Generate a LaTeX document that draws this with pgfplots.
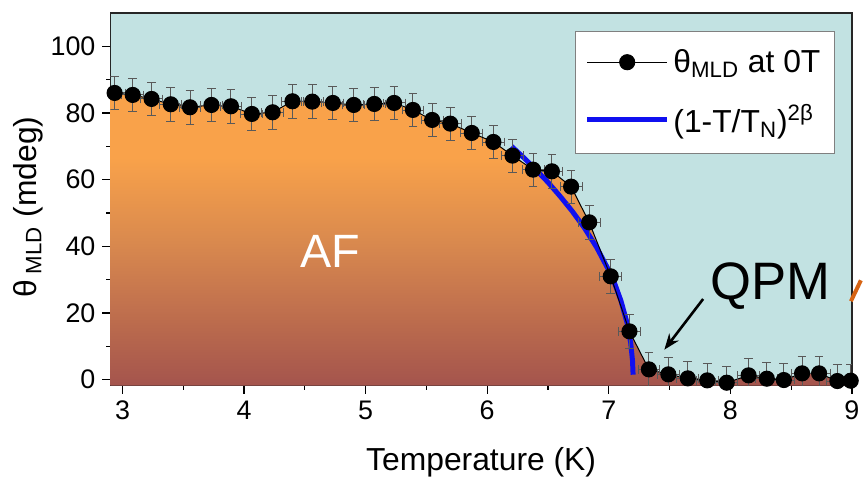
\documentclass[border=0pt]{standalone}
\usepackage{fontspec}
\setmainfont{Liberation Sans}
\usepackage{pgfplots}
\pgfplotsset{compat=1.18}
\usetikzlibrary{arrows.meta}
\definecolor{bgteal}{RGB}{194,226,226}
\definecolor{aftop}{RGB}{249,162,74}
\definecolor{afmid}{RGB}{218,138,78}
\definecolor{afbot}{RGB}{164,84,77}
\definecolor{fitblue}{RGB}{16,16,240}
\definecolor{sideorange}{RGB}{214,100,20}
\pgfdeclareverticalshading{afshade}{100bp}{color(0bp)=(afbot); color(25bp)=(afbot); color(50bp)=(afmid); color(64bp)=(aftop); color(100bp)=(aftop)}
\begin{document}
\begin{tikzpicture}
\begin{axis}[
  scale only axis, width=373pt, height=187.5pt,
  xmin=2.9, xmax=9, ymin=-1.8, ymax=110,
  xtick={3,4,5,6,7,8,9}, ytick={0,20,40,60,80,100},
  minor x tick num=1, minor y tick num=1,
  tick align=outside, tick pos=left,
  major tick length=4pt, minor tick length=2pt,
  every tick/.style={black, line width=0.6pt},
  axis line style={line width=0.8pt, black!85},
  axis background/.style={fill=bgteal},
  /pgf/number format/assume math mode=true,
  ticklabel style={font=\fontsize{13.5}{16}\selectfont},
  xlabel={Temperature (K)},
  ylabel={θ\,\textsubscript{MLD} (mdeg)},
  label style={font=\fontsize{16}{19}\selectfont},
  xlabel style={at={(rel axis cs:0.5,-0.2267)}, anchor=base},
  ylabel style={at={(rel axis cs:-0.111,0.48)}, anchor=center},
  reverse legend,
  legend style={at={(rel axis cs:0.977,0.952)}, anchor=north east,
    draw=black!50, line width=0.5pt, fill=white,
    font=\fontsize{16}{18}\selectfont, row sep=10.5pt, inner xsep=5pt, inner ysep=7pt},
  legend cell align=left,
  legend image code/.code={\draw[mark repeat=2,mark phase=2,#1] plot coordinates {(0pt,0pt) (20pt,0pt) (40pt,0pt)};},
]
% AF shaded region under the data
\addplot[draw=none, shading=afshade, forget plot] coordinates {
(2.9,85.6) (2.935,86.0) (3.084,85.4) (3.239,84.2) (3.397,82.6) (3.555,81.7)
(3.732,82.4) (3.892,82.0) (4.064,79.7) (4.235,80.2) (4.398,83.5) (4.561,83.4)
(4.730,83.0) (4.902,82.4) (5.071,82.7) (5.234,83.0) (5.389,80.9) (5.547,77.9)
(5.696,76.8) (5.873,74.0) (6.051,71.3) (6.208,67.2) (6.377,63.0) (6.532,62.5)
(6.690,57.9) (6.839,47.2) (7.016,31.0) (7.17,14.5) (7.33,3.1) (7.49,1.6)
(7.65,0.4) (7.81,-0.2) (7.97,-0.9) (8.15,1.3) (8.30,0.3) (8.44,-0.1)
(8.59,1.9) (8.73,1.9) (8.88,-0.4) (8.99,-0.3) (9.0,-0.3) (9.0,-1.8) (2.9,-1.8)
} -- cycle;
% fit curve
\addplot[fitblue, line width=2.5pt] coordinates {
(6.2,70.0) (6.3,66.6) (6.4,63.0) (6.5,59.2) (6.6,55.0) (6.7,50.5) (6.8,45.5)
(6.9,39.7) (7.0,32.8) (7.05,28.7) (7.1,23.7) (7.15,17.1) (7.18,11.1) (7.195,5.8) (7.2,1.5)
};
\addlegendentry{(1-T/T\textsubscript{N})\textsuperscript{2β}}
% data
\addplot[black, line width=0.5pt, mark=*, mark size=3.8pt,
  error bars/.cd, x dir=both, x fixed=0.09, y dir=both, y fixed=5,
  error bar style={black!65, line width=0.45pt},
  error mark options={rotate=90, black!65, mark size=2.2pt, line width=0.45pt}] coordinates {
(2.935,86.0) (3.084,85.4) (3.239,84.2) (3.397,82.6) (3.555,81.7)
(3.732,82.4) (3.892,82.0) (4.064,79.7) (4.235,80.2) (4.398,83.5) (4.561,83.4)
(4.730,83.0) (4.902,82.4) (5.071,82.7) (5.234,83.0) (5.389,80.9) (5.547,77.9)
(5.696,76.8) (5.873,74.0) (6.051,71.3) (6.208,67.2) (6.377,63.0) (6.532,62.5)
(6.690,57.9) (6.839,47.2) (7.016,31.0) (7.17,14.5) (7.33,3.1) (7.49,1.6)
(7.65,0.4) (7.81,-0.2) (7.97,-0.9) (8.15,1.3) (8.30,0.3) (8.44,-0.1)
(8.59,1.9) (8.73,1.9) (8.88,-0.4) (8.99,-0.3)
};
\addlegendentry{θ\textsubscript{MLD} at 0T}
\node[white, font=\fontsize{23.5}{27}\selectfont] at (axis cs:4.71,38.4) {AF};
\node[black, font=\fontsize{26.5}{30}\selectfont] at (axis cs:8.33,28) {QPM};
\draw[black, line width=1.3pt, -{Stealth[length=8pt,width=6pt]}] (axis cs:7.776,24.2) -- (axis cs:7.457,9.0);
\end{axis}
\draw[sideorange, line width=2pt] ([shift={(-0.5pt,42.5pt)}]current axis.south east) -- ([shift={(4.5pt,53pt)}]current axis.south east);
\path ([shift={(-55.5pt,-45pt)}]current axis.south west) rectangle ([shift={(4.5pt,6.5pt)}]current axis.north east);
\end{tikzpicture}
\end{document}
